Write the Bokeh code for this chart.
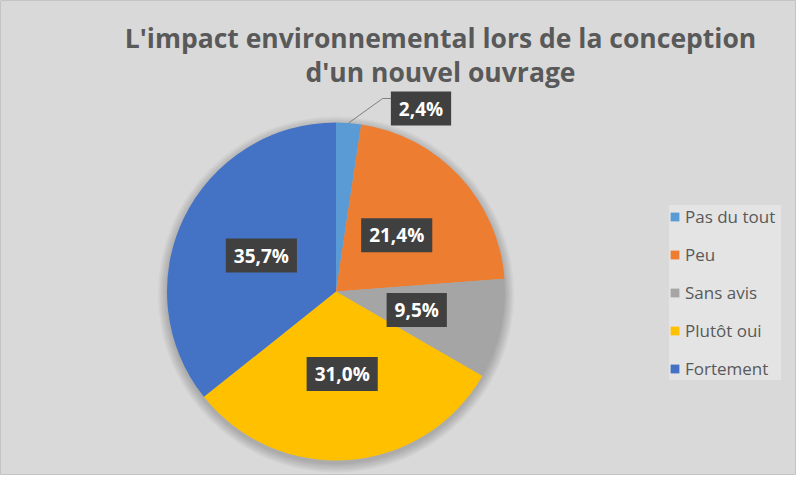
import math
from bokeh.plotting import figure
from bokeh.models import Range1d, Label, ColumnDataSource, Legend, LegendItem
from bokeh.embed import file_html
from bokeh.resources import INLINE

# ---- data ----
title_lines = ["L'impact environnemental lors de la conception", "d'un nouvel ouvrage"]
categories = ["Pas du tout", "Peu", "Sans avis", "Plutôt oui", "Fortement"]
counts = [1, 9, 4, 13, 15]
colors = ["#5b9bd5", "#ed7d31", "#a5a5a5", "#ffc000", "#4472c4"]

# ---- layout (pixel-mapped data space) ----
W, H = 796, 475
CX, CY, R = 335.5, 184.0, 169.0
BG = "#d9d9d9"

p = figure(width=W, height=H, x_range=Range1d(0, W), y_range=Range1d(0, H),
           output_backend="svg", toolbar_location=None, min_border=0,
           x_axis_location=None, y_axis_location=None)
p.grid.visible = False
p.background_fill_color = BG
p.border_fill_color = BG
p.outline_line_color = "#c4c4c4"

# soft pie shadow
for i in range(6):
    p.circle(x=[CX], y=[CY - 3], radius=R + 1 + i * 1.6, fill_color="black",
             fill_alpha=0.035, line_color=None)

total = float(sum(counts))
starts, ends, mids, pcts = [], [], [], []
cum = 0.0
for c in counts:
    a0 = math.pi / 2 - 2 * math.pi * cum / total
    a1 = math.pi / 2 - 2 * math.pi * (cum + c) / total
    starts.append(a0)
    ends.append(a1)
    mids.append((a0 + a1) / 2)
    pcts.append(100.0 * c / total)
    cum += c

src = ColumnDataSource(dict(start=starts, end=ends, color=colors, cat=categories))
wr = p.wedge(x=CX, y=CY, radius=R, start_angle="start", end_angle="end",
             direction="clock", fill_color="color", line_color=None, source=src)

def add_box_label(x, y, txt):
    pad = dict(left=8, right=8, top=4, bottom=4)
    # shadow
    p.add_layout(Label(x=x + 3, y=y - 3, text=txt, text_align="center", text_baseline="middle",
                       text_font="Open Sans", text_font_style="bold", text_font_size="19px",
                       text_alpha=0.0, background_fill_color="black", background_fill_alpha=0.25,
                       padding=pad))
    p.add_layout(Label(x=x, y=y, text=txt, text_align="center", text_baseline="middle",
                       text_font="Open Sans", text_font_style="bold", text_font_size="19px",
                       text_color="white", background_fill_color="#404040",
                       padding=pad))

for i, (m, pc) in enumerate(zip(mids, pcts)):
    txt = f"{pc:.1f}".replace(".", ",") + "%"
    if pc < 5:
        # outside label with leader line
        ex, ey = CX + R * math.cos(m), CY + R * math.sin(m)
        lx, ly = 420.5, 367.0
        p.line(x=[ex, ex + 34, lx - 28], y=[ey, ly + 10, ly + 10], line_color="#7f7f7f", line_width=1)
        add_box_label(lx, ly, txt)
    else:
        r = 0.49 * R
        add_box_label(CX + r * math.cos(m), CY + r * math.sin(m), txt)

# title
for j, line in enumerate(title_lines):
    p.add_layout(Label(x=440, y=438 - 34 * j, text=line, text_align="center", text_baseline="middle",
                       text_font="Open Sans", text_font_style="bold", text_font_size="26.5px",
                       text_color="#595959"))

legend = Legend(items=[LegendItem(label=c, renderers=[wr], index=i) for i, c in enumerate(categories)],
                location=(669, 95))
legend.glyph_width = 11
legend.glyph_height = 11
legend.label_height = 20
legend.label_width = 96
legend.spacing = 15
legend.padding = 10
legend.margin = 0
legend.label_standoff = 5
legend.label_text_font = "Open Sans"
legend.label_text_font_size = "17px"
legend.label_text_color = "#595959"
legend.background_fill_color = "#e4e4e4"
legend.background_fill_alpha = 1.0
legend.border_line_color = None
p.add_layout(legend, "center")

open("out.html", "w").write(file_html(p, INLINE))
